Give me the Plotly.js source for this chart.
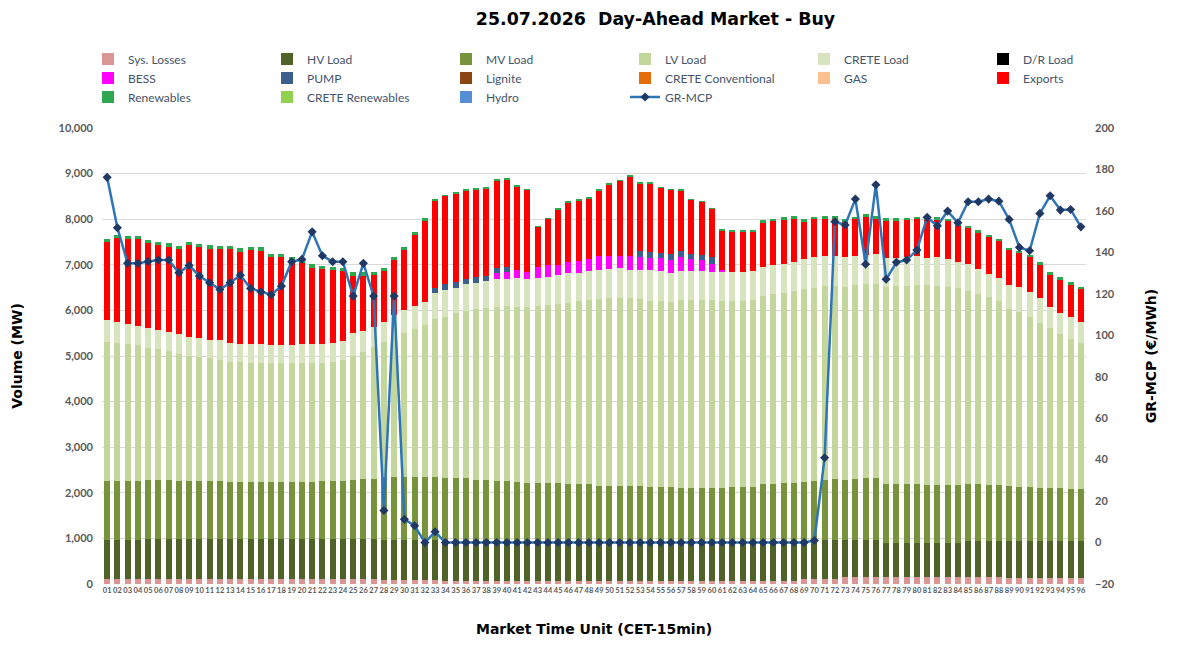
<!DOCTYPE html>
<html>
<head>
<meta charset="utf-8">
<script src="https://cdn.plot.ly/plotly-3.0.1.min.js"></script>
<style>
  html, body { margin: 0; padding: 0; background: #ffffff; }
  #chart { width: 1179px; height: 654px; }
</style>
</head>
<body>
<div id="chart"></div>
<script>
// Market time units (15-minute slots)
const mtu = ["01","02","03","04","05","06","07","08","09","10","11","12",
  "13","14","15","16","17","18","19","20","21","22","23","24",
  "25","26","27","28","29","30","31","32","33","34","35","36",
  "37","38","39","40","41","42","43","44","45","46","47","48",
  "49","50","51","52","53","54","55","56","57","58","59","60",
  "61","62","63","64","65","66","67","68","69","70","71","72",
  "73","74","75","76","77","78","79","80","81","82","83","84",
  "85","86","87","88","89","90","91","92","93","94","95","96"];

// Demand side volumes, MW per MTU
const sysLosses = [110,110,110,110,110,110,110,110,110,110,110,110,
  110,110,110,110,110,110,110,110,110,110,110,110,
  110,110,110,90,90,90,90,90,90,75,75,75,
  75,75,75,75,75,75,75,75,75,75,75,75,
  75,75,75,75,75,75,75,75,75,75,75,75,
  75,75,75,75,75,75,75,75,100,100,100,100,
  160,160,160,160,160,160,160,160,160,160,160,160,
  160,160,160,160,140,140,140,140,140,140,140,140];

const hvLoad = [855,855,855,855,880,880,880,880,880,880,880,880,
  880,880,880,880,880,880,880,880,880,880,880,880,
  880,880,880,875,875,875,875,875,875,890,890,890,
  890,890,890,890,855,855,855,855,855,855,855,855,
  855,855,855,855,855,855,855,855,855,855,855,855,
  855,855,855,855,855,855,855,855,830,830,865,865,
  805,805,805,805,735,735,735,735,735,735,735,735,
  790,790,790,790,795,795,795,795,795,795,795,795];

const mvLoad = [1295,1300,1300,1295,1285,1285,1280,1275,1265,1265,1260,1260,
  1255,1250,1245,1245,1255,1255,1250,1250,1255,1265,1265,1270,
  1300,1310,1315,1375,1385,1390,1390,1390,1385,1370,1365,1355,
  1315,1305,1300,1295,1300,1285,1280,1275,1275,1270,1270,1270,
  1230,1225,1220,1215,1210,1200,1195,1190,1185,1185,1180,1180,
  1185,1190,1195,1205,1260,1265,1285,1295,1310,1320,1305,1335,
  1325,1335,1350,1355,1295,1295,1295,1290,1285,1285,1280,1270,
  1240,1235,1230,1225,1205,1200,1185,1175,1175,1160,1155,1150];

const lvLoad = [3055,3025,2995,2975,2905,2870,2830,2785,2755,2725,2700,2660,
  2630,2620,2615,2615,2605,2600,2605,2605,2600,2595,2615,2660,
  2710,2790,2895,2960,3070,3155,3230,3325,3455,3530,3605,3675,
  3745,3775,3815,3845,3850,3865,3880,3915,3935,3970,4000,4030,
  4095,4115,4125,4125,4105,4085,4090,4070,4115,4115,4120,4110,
  4100,4085,4080,4095,4135,4155,4175,4200,4220,4250,4265,4235,
  4230,4255,4255,4255,4330,4340,4340,4370,4375,4365,4345,4320,
  4245,4165,4105,4040,3885,3835,3745,3605,3495,3380,3275,3195];

const creteLoad = [475,445,440,430,440,425,425,440,415,415,405,440,
  415,410,420,405,400,395,390,410,410,420,420,410,
  495,465,445,455,480,495,520,510,570,585,560,580,
  585,600,600,590,620,600,615,620,635,645,630,635,
  630,645,645,615,645,675,650,620,645,635,635,630,
  635,635,640,645,635,645,635,645,665,665,660,665,
  650,645,650,655,620,620,650,645,600,625,615,585,
  575,550,510,505,535,535,545,550,475,475,495,470];

// Series with no volume on this day
const noVolume = [0,0,0,0,0,0,0,0,0,0,0,0,
  0,0,0,0,0,0,0,0,0,0,0,0,
  0,0,0,0,0,0,0,0,0,0,0,0,
  0,0,0,0,0,0,0,0,0,0,0,0,
  0,0,0,0,0,0,0,0,0,0,0,0,
  0,0,0,0,0,0,0,0,0,0,0,0,
  0,0,0,0,0,0,0,0,0,0,0,0,
  0,0,0,0,0,0,0,0,0,0,0,0];
const drLoad = noVolume;
const lignite = noVolume;
const creteConventional = noVolume;
const gas = noVolume;
const creteRenewables = noVolume;
const hydro = noVolume;

const bess = [0,0,0,0,0,0,0,0,0,0,0,0,
  0,0,0,0,0,0,0,0,0,0,0,0,
  0,0,0,0,0,0,0,0,0,0,0,0,
  0,0,130,140,180,170,255,250,225,250,255,255,
  300,285,280,315,280,270,280,305,295,255,240,170,
  35,0,0,0,0,0,0,0,0,0,0,0,
  0,0,0,0,0,0,0,0,0,0,0,0,
  0,0,0,0,0,0,0,0,0,0,0,0];

const pump = [0,0,0,0,0,0,0,0,0,0,0,0,
  0,0,0,0,0,0,0,0,0,0,0,0,
  0,0,0,0,0,0,0,0,110,130,130,115,
  130,115,130,125,0,0,0,0,0,0,0,0,
  0,0,0,0,125,125,110,130,125,115,110,145,
  0,0,0,0,0,0,0,0,0,0,0,0,
  0,0,0,0,0,0,0,0,0,0,0,0,
  0,0,0,0,0,0,0,0,0,0,0,0];

const exportsMW = [1700,1845,1865,1890,1860,1860,1875,1860,2005,1985,2000,1990,
  2050,2020,2050,2055,1925,1925,1875,1775,1685,1640,1600,1540,
  1270,1210,1125,1110,1210,1315,1555,1770,1925,1925,1935,1935,
  1905,1910,1905,1910,1825,1780,860,1010,1200,1295,1320,1325,
  1435,1550,1635,1735,1485,1495,1425,1385,1330,1180,1155,1055,
  855,875,870,845,960,955,960,945,815,830,815,815,
  770,795,830,785,830,820,795,800,830,815,815,785,
  795,800,810,800,755,750,755,740,700,720,705,710];

const renewables = [70,70,70,70,70,70,70,70,70,70,70,70,
  70,70,70,70,70,70,70,70,70,70,70,70,
  70,70,70,70,60,60,60,60,35,35,35,35,
  35,35,35,35,35,35,35,35,35,35,35,35,
  35,35,35,35,35,35,35,35,35,35,35,35,
  40,40,40,40,55,55,55,55,55,55,55,55,
  55,55,55,55,55,55,55,55,55,55,55,55,
  55,55,55,55,55,55,55,55,55,55,55,55];

// Greek market clearing price, EUR/MWh
const grMcp = [176.2,151.9,134.7,134.7,135.6,136.3,136.3,130.2,133.7,128.6,125.3,122.1,
  125.3,129.0,122.6,121.0,119.6,123.7,135.5,136.6,149.9,138.4,135.5,135.5,
  118.9,134.7,118.9,15.5,118.9,11.2,8.1,0,5.2,0,0,0,
  0,0,0,0,0,0,0,0,0,0,0,0,
  0,0,0,0,0,0,0,0,0,0,0,0,
  0,0,0,0,0,0,0,0,0,1.0,40.9,154.8,
  153.2,165.7,134.3,172.6,127.0,135.2,136.3,141.1,156.9,152.8,159.9,154.3,
  164.4,164.4,165.7,164.7,155.9,142.4,140.8,158.8,167.3,160.4,160.7,152.3];

const stackSeries = [
  { name: "Sys. Losses",         y: sysLosses,         color: "#d99694" },
  { name: "HV Load",             y: hvLoad,            color: "#4f6228" },
  { name: "MV Load",             y: mvLoad,            color: "#77933c" },
  { name: "LV Load",             y: lvLoad,            color: "#c3d69b" },
  { name: "CRETE Load",          y: creteLoad,         color: "#d7e4bd" },
  { name: "D/R Load",            y: drLoad,            color: "#000000" },
  { name: "BESS",                y: bess,              color: "#ff00ff" },
  { name: "PUMP",                y: pump,              color: "#3b5e8c" },
  { name: "Lignite",             y: lignite,           color: "#8b4513" },
  { name: "CRETE Conventional",  y: creteConventional, color: "#e46c0a" },
  { name: "GAS",                 y: gas,               color: "#fac090" },
  { name: "Exports",             y: exportsMW,         color: "#ff0000" },
  { name: "Renewables",          y: renewables,        color: "#2ea84f" },
  { name: "CRETE Renewables",    y: creteRenewables,   color: "#92d050" },
  { name: "Hydro",               y: hydro,             color: "#558ed5" }
];

const traces = stackSeries.map(s => ({
  type: "bar",
  name: s.name,
  x: mtu,
  y: s.y,
  marker: { color: s.color, line: { width: 0 } },
  hoverinfo: "skip"
}));

traces.push({
  type: "scatter",
  mode: "lines+markers",
  name: "GR-MCP",
  x: mtu,
  y: grMcp,
  yaxis: "y2",
  line: { color: "#2e75b6", width: 2.5 },
  marker: { symbol: "diamond", size: 7, color: "#1f3864" },
  hoverinfo: "skip"
});

const tickFont = { family: "Lato, sans-serif", size: 11, color: "#595959", weight: "bold" };
const axisTitleFont = { family: "DejaVu Sans, sans-serif", size: 14, color: "#000000", weight: "bold" };

const layout = {
  width: 1179,
  height: 654,
  margin: { l: 102, r: 93, t: 128, b: 70, autoexpand: false },
  paper_bgcolor: "#ffffff",
  plot_bgcolor: "#ffffff",
  font: { family: "Lato, sans-serif", color: "#595959" },
  title: {
    text: "25.07.2026  Day-Ahead Market - Buy",
    x: 0.556, xanchor: "center", xref: "container",
    y: 0.971, yanchor: "middle", yref: "container",
    font: { family: "DejaVu Sans, sans-serif", size: 17.4, color: "#000000", weight: "bold" }
  },
  barmode: "stack",
  bargap: 0.4,
  showlegend: true,
  legend: {
    orientation: "h",
    x: -0.0142, xanchor: "left",
    y: 1.183, yanchor: "top",
    traceorder: "normal",
    entrywidth: 134,
    entrywidthmode: "pixels",
    bgcolor: "rgba(0,0,0,0)",
    font: { family: "Lato, sans-serif", size: 12, color: "#44546a" }
  },
  xaxis: {
    type: "category",
    range: [-0.5, mtu.length - 0.5],
    tickmode: "linear",
    dtick: 1,
    tickangle: 0,
    ticks: "",
    showgrid: false,
    zeroline: false,
    showline: false,
    tickfont: { family: "Lato, sans-serif", size: 7.5, color: "#595959", weight: "bold" },
    title: { text: "Market Time Unit (CET-15min)", font: axisTitleFont, standoff: 30 }
  },
  yaxis: {
    range: [0, 10000],
    dtick: 1000,
    tickformat: ",d",
    showgrid: true,
    gridcolor: "#d9d9d9",
    gridwidth: 1,
    zeroline: false,
    showline: false,
    ticks: "",
    ticklabelstandoff: 8,
    tickfont: tickFont,
    title: { text: "Volume (MW)", font: axisTitleFont, standoff: 32 }
  },
  yaxis2: {
    overlaying: "y",
    side: "right",
    range: [-20, 200],
    dtick: 20,
    showgrid: false,
    zeroline: false,
    showline: false,
    ticks: "",
    ticklabelstandoff: 8,
    tickfont: tickFont,
    title: { text: "GR-MCP (€/MWh)", font: axisTitleFont, standoff: 32 }
  }
};

Plotly.newPlot("chart", traces, layout, { displayModeBar: false, staticPlot: true });
</script>
</body>
</html>
